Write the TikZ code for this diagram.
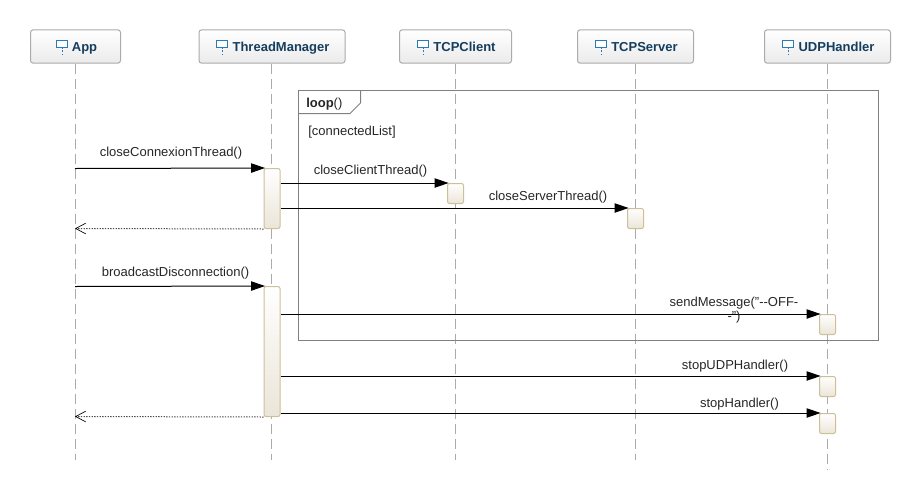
\documentclass[tikz,border=0pt]{standalone}
\usepackage{fontspec}
\setmainfont{Liberation Sans}
\usetikzlibrary{arrows.meta}
\definecolor{headtext}{HTML}{153E5E}
\definecolor{iconblue}{HTML}{2B7BB5}
\definecolor{headedge}{HTML}{ABABAB}
\definecolor{actedge}{HTML}{CDBF98}
\definecolor{actfoot}{HTML}{EBE5D8}
\definecolor{lifegrey}{HTML}{ABABAB}
\definecolor{framegrey}{HTML}{808080}

\begin{document}
\begin{tikzpicture}[x=.75pt,y=-.75pt,
	head/.style={draw=headedge, line width=.75pt, rounded corners=2pt, top color=white, bottom color=black!8,
		minimum height=25pt, inner sep=0pt, text height=7.5pt, text depth=0pt,
		font=\bfseries\fontsize{9.75}{11}\selectfont, text=headtext},
	act/.style={draw=actedge, line width=.75pt, rounded corners=1.5pt, top color=white, bottom color=actfoot,
		minimum width=12pt, inner sep=0pt},
	life/.style={lifegrey, line width=.75pt, dash pattern=on 7.5pt off 3.75pt},
	msg/.style={black, line width=.75pt, shorten >=-1.2pt, -{Triangle[length=10.5pt, width=7pt]}},
	ret/.style={black!70, line width=.75pt, dash pattern=on 1pt off 1pt, -{Straight Barb[length=7.5pt, width=8pt, black, line width=.5pt]}},
	lbl/.style={font=\fontsize{9.75}{11}\selectfont, inner sep=0pt, align=center, text=black!85}]
	\path[use as bounding box] (0,0) rectangle (920,500);

	% lifeline heads
	\node [head, minimum width=67.5pt] (app) at (75.5,46.5) {\hspace{13.5pt}App};
	\node [head, minimum width=109.5pt] (mgr) at (272,46.5) {\hspace{13.5pt}ThreadManager};
	\node [head, minimum width=84pt] (cli) at (455.5,46.5) {\hspace{13.5pt}TCPClient};
	\node [head, minimum width=87pt] (srv) at (635.5,46.5) {\hspace{13.5pt}TCPServer};
	\node [head, minimum width=94.5pt] (udp) at (827.5,46.5) {\hspace{13.5pt}UDPHandler};

	% small icons in the heads
	\foreach \x in {62,222,423,601,788} {
		\draw [iconblue, fill=white, line width=.75pt] (\x-5.5,40.5) rectangle (\x+5.5,47);
		\draw [iconblue, line width=.75pt, dash pattern=on 1.5pt off 1pt] (\x,47) -- (\x,54);
	}

	% lifelines
	\coordinate (appEnd) at (75.5,460);
	\coordinate (mgrEnd) at (271.5,460);
	\coordinate (cliEnd) at (455.5,460);
	\coordinate (srvEnd) at (635.5,460);
	\coordinate (udpEnd) at (827.5,470);
	\draw [life] (app) -- (appEnd);
	\draw [life] (mgr.south -| mgrEnd) -- (mgrEnd);
	\draw [life] (cli) -- (cliEnd);
	\draw [life] (srv) -- (srvEnd);
	\draw [life] (udp) -- (udpEnd);

	% loop frame
	\draw [framegrey, line width=.75pt] (298.5,90.5) rectangle (878.5,340.5);
	\draw [framegrey, line width=.75pt] (298.5,113.5) -- (350,113.5) -- (360.5,103) -- (360.5,90.5);
	\node [lbl, anchor=west] (loopTag) at (306,104.5) {\textbf{loop}()};
	\node [lbl, anchor=west] (guard) at (308,132) {[connectedList]};

	% activations
	\node [act, minimum height=45pt] (mgrA) at (272,198.5) {};
	\node [act, minimum height=97.5pt] (mgrB) at (272,351.5) {};
	\node [act, minimum height=15pt] (cliA) at (455.5,193.5) {};
	\node [act, minimum height=15pt] (srvA) at (635.5,218.5) {};
	\node [act, minimum height=15pt] (udpA) at (827.5,324.5) {};
	\node [act, minimum height=15pt] (udpB) at (827.5,386.5) {};
	\node [act, minimum height=15pt] (udpC) at (827.5,423.5) {};

	% free ends on the App lifeline
	\coordinate (appCall) at (75,168.5);
	\coordinate (appBack) at (75,228.5);
	\coordinate (appCast) at (75,286.5);
	\coordinate (appLast) at (75,416.5);

	% messages
	\draw [msg] (appCall) -- (mgrA.north west);
	\node [lbl] (callLbl) at (171,153) {closeConnexionThread()};

	\draw [msg] (mgrA.east |- cliA.north) -- (cliA.north west);
	\node [lbl] (cliLbl) at (370.5,171) {closeClientThread()};

	\draw [msg] (mgrA.east |- srvA.north) -- (srvA.north west);
	\node [lbl] (srvLbl) at (548,197) {closeServerThread()};

	\draw [ret] (mgrA.south west) -- (appBack);

	\draw [msg] (appCast) -- (mgrB.north west);
	\node [lbl] (castLbl) at (175.5,273) {broadcastDisconnection()};

	\draw [msg] (mgrB.east |- udpA.north) -- (udpA.north west);
	\node [lbl] (sendLbl) at (734,310) {sendMessage("-{}-OFF-\\-")};

	\draw [msg] (mgrB.east |- udpB.north) -- (udpB.north west);
	\node [lbl] (stopLbl) at (735,366) {stopUDPHandler()};

	\draw [ret] (mgrB.south west) -- (appLast);

	\draw [msg] (mgrB.east |- udpC.north) -- (udpC.north west);
	\node [lbl] (haltLbl) at (739.5,404) {stopHandler()};
\end{tikzpicture}
\end{document}
